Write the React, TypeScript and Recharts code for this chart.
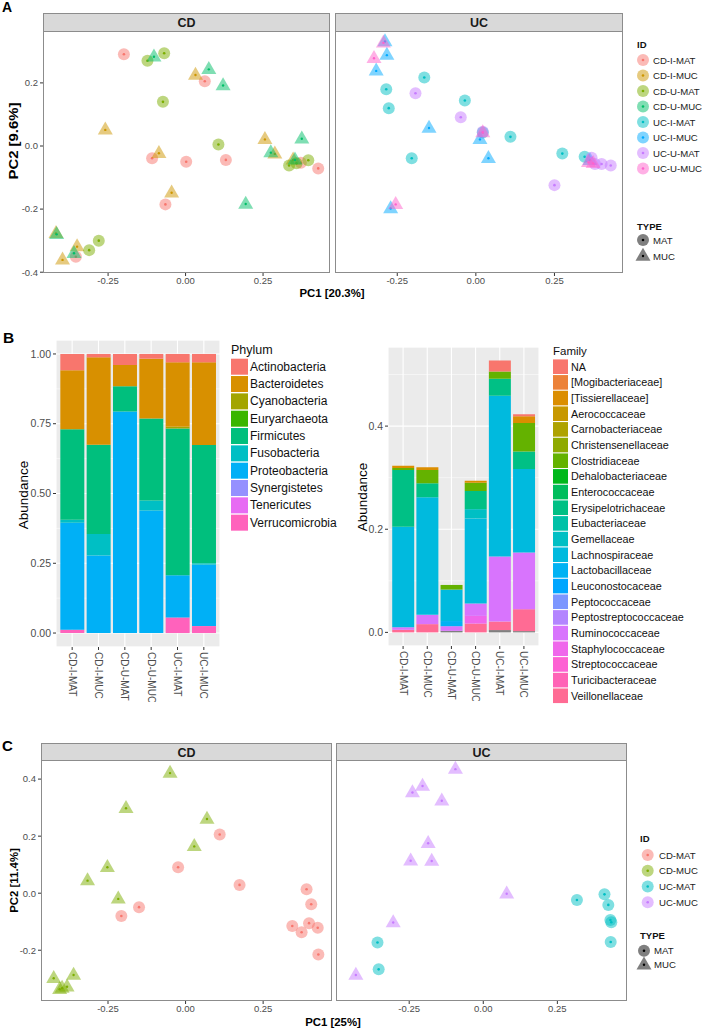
import React from "react";
import { ScatterChart, Scatter, XAxis, YAxis, BarChart, Bar, CartesianGrid } from "recharts";

const FONT = '"Liberation Sans", Arial, Helvetica, sans-serif';

// ---------------- Panel A (PCoA, 8 groups) ----------------
const A_IDS = ["CD-I-MAT", "CD-I-MUC", "CD-U-MAT", "CD-U-MUC", "UC-I-MAT", "UC-I-MUC", "UC-U-MAT", "UC-U-MUC"];
const A_CD_I_MAT = [[-0.199, 0.291], [0.062, 0.205], [-0.108, -0.039], [0.002, -0.05], [0.13, -0.044], [-0.065, -0.185], [0.372, -0.053], [0.428, -0.071], [-0.354, -0.351]];
const A_CD_I_MUC = [[-0.259, 0.051], [0.032, 0.225], [-0.086, -0.023], [-0.045, -0.148], [0.256, 0.021], [0.288, -0.025], [0.347, -0.044], [-0.418, -0.277], [-0.397, -0.361], [-0.35, -0.319]];
const A_CD_U_MAT = [[-0.123, 0.27], [-0.069, 0.294], [-0.073, 0.14], [0.106, 0.005], [0.334, -0.062], [0.396, -0.045], [-0.311, -0.33], [-0.28, -0.3], [0.358, -0.055]];
const A_CD_U_MUC = [[-0.102, 0.283], [0.075, 0.243], [0.121, 0.192], [0.375, 0.023], [0.275, -0.021], [0.194, -0.184], [-0.416, -0.28], [-0.36, -0.34], [0.353, -0.044]];
const A_UC_I_MAT = [[-0.164, 0.217], [-0.285, 0.18], [-0.277, 0.12], [-0.035, 0.144], [0.022, 0.043], [0.11, 0.029], [-0.204, -0.039], [0.275, -0.024], [0.346, -0.034]];
const A_UC_I_MUC = [[-0.289, 0.331], [-0.283, 0.288], [-0.317, 0.238], [-0.149, 0.057], [0.013, 0.021], [0.04, -0.039], [-0.271, -0.198], [0.363, -0.045]];
const A_UC_U_MAT = [[-0.192, 0.167], [-0.048, 0.091], [0.022, 0.045], [0.25, -0.124], [0.368, -0.037], [0.379, -0.057], [0.4, -0.057], [0.429, -0.062]];
const A_UC_U_MUC = [[-0.294, 0.327], [-0.324, 0.278], [0.022, 0.043], [-0.255, -0.185], [0.358, -0.052], [0.373, -0.055]];
const A_X_TICKS = [-0.25, 0, 0.25];
const A_Y_TICKS = [-0.4, -0.2, 0, 0.2];

// ---------------- Panel B (stacked abundance) ----------------
const barGroups = ["CD-I-MAT", "CD-I-MUC", "CD-U-MAT", "CD-U-MUC", "UC-I-MAT", "UC-I-MUC"];
const phylumNames = ["Actinobacteria", "Bacteroidetes", "Cyanobacteria", "Euryarchaeota", "Firmicutes", "Fusobacteria", "Proteobacteria", "Synergistetes", "Tenericutes", "Verrucomicrobia"];
const actinobacteria = [0.058, 0.012, 0.04, 0.017, 0.03, 0.03];
const bacteroidetes = [0.212, 0.313, 0.076, 0.214, 0.231, 0.296];
const cyanobacteria = [0, 0, 0, 0, 0.006, 0];
const euryarchaeota = [0, 0, 0, 0, 0, 0];
const firmicutes = [0.324, 0.32, 0.09, 0.294, 0.526, 0.424];
const fusobacteria = [0.011, 0.077, 0, 0.036, 0, 0.005];
const proteobacteria = [0.383, 0.278, 0.794, 0.439, 0.151, 0.22];
const synergistetes = [0, 0, 0, 0, 0, 0];
const tenericutes = [0, 0, 0, 0, 0, 0];
const verrucomicrobia = [0.012, 0, 0, 0, 0.056, 0.025];
const phylumSeries = [actinobacteria, bacteroidetes, cyanobacteria, euryarchaeota, firmicutes, fusobacteria, proteobacteria, synergistetes, tenericutes, verrucomicrobia];
const phylumTicks = [0, 0.25, 0.5, 0.75, 1];
const phylumMinorTicks = [0.125, 0.375, 0.625, 0.875];

const familyNames = ["NA", "[Mogibacteriaceae]", "[Tissierellaceae]", "Aerococcaceae", "Carnobacteriaceae", "Christensenellaceae", "Clostridiaceae", "Dehalobacteriaceae", "Enterococcaceae", "Erysipelotrichaceae", "Eubacteriaceae", "Gemellaceae", "Lachnospiraceae", "Lactobacillaceae", "Leuconostocaceae", "Peptococcaceae", "Peptostreptococcaceae", "Ruminococcaceae", "Staphylococcaceae", "Streptococcaceae", "Turicibacteraceae", "Veillonellaceae"];
const famNA = [0, 0, 0, 0, 0.021, 0.004];
const famMogibacteriaceae = [0, 0, 0, 0, 0, 0];
const famTissierellaceae = [0.004, 0.005, 0, 0.004, 0, 0.013];
const famAerococcaceae = [0, 0, 0, 0, 0, 0];
const famCarnobacteriaceae = [0, 0, 0, 0, 0, 0];
const famChristensenellaceae = [0, 0, 0, 0, 0, 0];
const famClostridiaceae = [0.004, 0.026, 0.009, 0.016, 0.014, 0.055];
const famDehalobacteriaceae = [0, 0, 0, 0, 0, 0];
const famEnterococcaceae = [0, 0, 0, 0, 0, 0];
const famErysipelotrichaceae = [0.11, 0.027, 0, 0.035, 0.033, 0.034];
const famEubacteriaceae = [0, 0, 0, 0, 0, 0];
const famGemellaceae = [0, 0, 0, 0.018, 0, 0];
const famLachnospiraceae = [0.195, 0.228, 0.061, 0.165, 0.312, 0.162];
const famLactobacillaceae = [0, 0, 0.01, 0, 0, 0];
const famLeuconostocaceae = [0, 0, 0, 0, 0, 0];
const famPeptococcaceae = [0, 0, 0, 0, 0, 0];
const famPeptostreptococcaceae = [0, 0, 0, 0, 0, 0];
const famRuminococcaceae = [0.005, 0.018, 0.009, 0.024, 0.126, 0.11];
const famStaphylococcaceae = [0, 0, 0, 0.015, 0, 0];
const famStreptococcaceae = [0, 0, 0, 0, 0, 0];
const famTuricibacteraceae = [0, 0, 0, 0, 0, 0];
const famVeillonellaceae = [0.005, 0.016, 0, 0.017, 0.0165, 0.0425];
const famUnassigned = [0, 0, 0.003, 0, 0.0045, 0.0025];
const familySeries = [famNA, famMogibacteriaceae, famTissierellaceae, famAerococcaceae, famCarnobacteriaceae, famChristensenellaceae, famClostridiaceae, famDehalobacteriaceae, famEnterococcaceae, famErysipelotrichaceae, famEubacteriaceae, famGemellaceae, famLachnospiraceae, famLactobacillaceae, famLeuconostocaceae, famPeptococcaceae, famPeptostreptococcaceae, famRuminococcaceae, famStaphylococcaceae, famStreptococcaceae, famTuricibacteraceae, famVeillonellaceae];
const familyTicks = [0, 0.2, 0.4];
const familyMinorTicks = [0.1, 0.3, 0.5];

// ---------------- Panel C (PCoA, 4 groups) ----------------
const C_IDS = ["CD-MAT", "CD-MUC", "UC-MAT", "UC-MUC"];
const C_CD_MAT = [[0.11, 0.206], [-0.024, 0.091], [0.174, 0.029], [0.39, 0.014], [0.405, -0.039], [-0.15, -0.049], [-0.207, -0.08], [0.344, -0.115], [0.374, -0.137], [0.398, -0.105], [0.426, -0.121], [0.428, -0.215]];
const C_CD_MUC = [[-0.05, 0.421], [-0.192, 0.298], [0.069, 0.26], [0.028, 0.164], [-0.252, 0.091], [-0.316, 0.044], [-0.217, -0.02], [-0.425, -0.298], [-0.361, -0.287], [-0.406, -0.337], [-0.382, -0.328], [-0.398, -0.333]];
const C_UC_MAT = [[0.316, -0.024], [0.409, -0.004], [0.422, -0.041], [0.429, -0.094], [0.432, -0.102], [0.43, -0.171], [-0.357, -0.173], [-0.353, -0.267]];
const C_UC_MUC = [[-0.094, 0.435], [-0.205, 0.376], [-0.239, 0.353], [-0.14, 0.324], [-0.186, 0.175], [-0.245, 0.114], [-0.174, 0.113], [0.079, -0.002], [-0.304, -0.103], [-0.43, -0.287]];
const C_X_TICKS = [-0.25, 0, 0.25];
const C_Y_TICKS = [-0.2, 0, 0.2, 0.4];

// ---------------- colours (ggplot2 hue palette) ----------------
function hcl(h: number, c = 100, l = 65): string {
  const rad = (h * Math.PI) / 180;
  const U = c * Math.cos(rad);
  const V = c * Math.sin(rad);
  const Xn = 95.047, Yn = 100.0, Zn = 108.883;
  const den = Xn + 15 * Yn + 3 * Zn;
  const un = (4 * Xn) / den, vn = (9 * Yn) / den;
  const Y = Yn * Math.pow((l + 16) / 116, 3);
  const u = U / (13 * l) + un;
  const v = V / (13 * l) + vn;
  const X = (9 * Y * u) / (4 * v);
  const Z = -X / 3 - 5 * Y + (3 * Y) / v;
  const x = X / 100, y = Y / 100, z = Z / 100;
  const lin = [
    3.240479 * x - 1.53715 * y - 0.498535 * z,
    -0.969256 * x + 1.875992 * y + 0.041556 * z,
    0.055648 * x - 0.204043 * y + 1.057311 * z,
  ];
  return "#" + lin.map((t) => {
    let s = t <= 0.0031308 ? 12.92 * t : 1.055 * Math.pow(t, 1 / 2.4) - 0.055;
    s = Math.max(0, Math.min(1, s));
    return Math.round(s * 255).toString(16).padStart(2, "0");
  }).join("");
}
function huePal(n: number): string[] {
  const out: string[] = [];
  for (let i = 0; i < n; i++) out.push(hcl(15 + (360 * i) / n));
  return out;
}
const A_COLORS = huePal(8);
const C_COLORS = huePal(4);
const PHY_COLORS = huePal(10);
const FAM_COLORS = huePal(22);
const NA_GREY = "#7F7F7F";

const toPts = (arr: number[][]) => arr.map(([x, y]) => ({ x, y }));

const pointShape = (color: string, tri: boolean) => (p: any) => {
  const { cx, cy } = p;
  if (cx == null || cy == null) return <g />;
  if (tri) {
    return (
      <g>
        <polygon points={`${cx},${cy - 8.3} ${cx - 7.5},${cy + 4.7} ${cx + 7.5},${cy + 4.7}`} fill={color} fillOpacity={0.5} />
        <circle cx={cx} cy={cy} r={1.2} fill={color} />
      </g>
    );
  }
  return (
    <g>
      <circle cx={cx} cy={cy} r={6} fill={color} fillOpacity={0.5} />
      <circle cx={cx} cy={cy} r={1.3} fill={color} />
    </g>
  );
};

type Group = { name: string; pts: number[][]; color: string; tri: boolean };

function Facet(props: {
  left: number; top: number; width: number; height: number; yWidth: number; showY: boolean;
  xDomain: number[]; yDomain: number[]; xTicks: number[]; yTicks: number[]; groups: Group[];
}) {
  const { left, top, width, height, yWidth, showY, xDomain, yDomain, xTicks, yTicks, groups } = props;
  const tickStyle = { fontSize: 9.5, fill: "#4D4D4D", fontFamily: FONT };
  return (
    <div style={{ position: "absolute", left, top }}>
      <ScatterChart width={width} height={height} margin={{ top: 0, right: showY ? 1 : 0, bottom: 0, left: 0 }}>
        <XAxis type="number" dataKey="x" domain={xDomain} allowDataOverflow ticks={xTicks} interval={0}
          tickFormatter={(v: number) => v.toFixed(2)} height={20} tickSize={3} tickMargin={1}
          axisLine={false} tickLine={{ stroke: "#333" }} tick={tickStyle} />
        <YAxis type="number" dataKey="y" domain={yDomain} allowDataOverflow ticks={yTicks} interval={0}
          hide={!showY} width={showY ? yWidth : 0}
          tickFormatter={(v: number) => v.toFixed(1)} tickSize={3} tickMargin={2}
          axisLine={false} tickLine={{ stroke: "#333" }} tick={tickStyle} />
        {groups.map((g) => (
          <Scatter key={g.name} name={g.name} data={toPts(g.pts)} shape={pointShape(g.color, g.tri)} isAnimationActive={false} />
        ))}
      </ScatterChart>
    </div>
  );
}

const RotTick = (p: any) => {
  const { x, y, payload } = p;
  return (
    <text x={0} y={0} transform={`translate(${x},${y}) rotate(90)`} textAnchor="start" dominantBaseline="central"
      fontSize={10} fill="#4D4D4D" fontFamily={FONT}>{payload.value}</text>
  );
};

function StackedBars(props: {
  left: number; top: number; width: number; height: number; yWidth: number;
  rows: any[]; names: string[]; colors: string[]; domain: number[]; ticks: number[]; minor: number[];
  digits: number; extra?: { key: string; color: string };
}) {
  const { left, top, width, height, yWidth, rows, names, colors, domain, ticks, minor, digits, extra } = props;
  const order = names.map((n, i) => ({ n, c: colors[i] })).reverse();
  return (
    <div style={{ position: "absolute", left, top }}>
      <BarChart width={width} height={height} data={rows} margin={{ top: 0, right: 1, bottom: 0, left: 0 }} barCategoryGap="5%">
        <YAxis yAxisId="minor" hide type="number" domain={domain} allowDataOverflow ticks={minor} interval={0} />
        <CartesianGrid yAxisId="minor" vertical={false} fill="#EBEBEB" fillOpacity={1} stroke="#FFFFFF" strokeWidth={0.5} />
        <CartesianGrid stroke="#FFFFFF" strokeWidth={1.1} />
        <XAxis dataKey="name" type="category" padding={{ left: 3, right: 3 }} interval={0} height={55}
          tickSize={3} tickMargin={2} axisLine={false} tickLine={{ stroke: "#333" }} tick={(p: any) => <RotTick {...p} />} />
        <YAxis type="number" domain={domain} allowDataOverflow ticks={ticks} interval={0} width={yWidth}
          tickFormatter={(v: number) => v.toFixed(digits)} tickSize={3} tickMargin={2}
          axisLine={false} tickLine={{ stroke: "#333" }} tick={{ fontSize: 10.5, fill: "#4D4D4D", fontFamily: FONT }} />
        {extra ? <Bar dataKey={extra.key} stackId="s" fill={extra.color} isAnimationActive={false} /> : null}
        {order.map((o) => (
          <Bar key={o.n} dataKey={o.n} stackId="s" fill={o.c} isAnimationActive={false} />
        ))}
      </BarChart>
    </div>
  );
}

const phylumRows = barGroups.map((g, i) => {
  const row: any = { name: g };
  phylumNames.forEach((n, k) => { row[n] = phylumSeries[k][i]; });
  return row;
});
const familyRows = barGroups.map((g, i) => {
  const row: any = { name: g, unassigned: famUnassigned[i] };
  familyNames.forEach((n, k) => { row[n] = familySeries[k][i]; });
  return row;
});

// ---------------- overlay helpers ----------------
const Strip = ({ x, y, w, h, label }: any) => (
  <g>
    <rect x={x + 0.5} y={y + 0.5} width={w - 1} height={h} fill="#D9D9D9" stroke="#8C8C8C" strokeWidth={1} />
    <text x={x + w / 2} y={y + h / 2 + 1} textAnchor="middle" dominantBaseline="central" fontWeight="bold" fontSize={12.5} fill="#1A1A1A">{label}</text>
  </g>
);
const Border = ({ x, y, w, h }: any) => (
  <rect x={x + 0.5} y={y + 0.5} width={w - 1} height={h - 1} fill="none" stroke="#8C8C8C" strokeWidth={1} />
);

function ScatterLegend({ x, keyX, textX, titleY, ids, colors, y0, step, typeY, matY, mucY, typeKeyX }: any) {
  return (
    <g>
      <text x={x} y={titleY} dominantBaseline="central" fontWeight="bold" fontSize={9.5} fill="#111">ID</text>
      {ids.map((id: string, i: number) => {
        const cy = y0 + i * step;
        return (
          <g key={id}>
            <circle cx={keyX} cy={cy} r={6} fill={colors[i]} fillOpacity={0.5} />
            <circle cx={keyX} cy={cy} r={1.3} fill={colors[i]} />
            <text x={textX} y={cy} dominantBaseline="central" fontSize={9.6} fill="#222">{id}</text>
          </g>
        );
      })}
      <text x={x} y={typeY} dominantBaseline="central" fontWeight="bold" fontSize={9.5} fill="#111">TYPE</text>
      <circle cx={typeKeyX} cy={matY} r={6} fill="#000" fillOpacity={0.5} />
      <circle cx={typeKeyX} cy={matY} r={1.3} fill="#000" />
      <text x={typeKeyX + 10} y={matY} dominantBaseline="central" fontSize={9.6} fill="#222">MAT</text>
      <polygon points={`${typeKeyX},${mucY - 8.3} ${typeKeyX - 7.5},${mucY + 4.7} ${typeKeyX + 7.5},${mucY + 4.7}`} fill="#000" fillOpacity={0.5} />
      <circle cx={typeKeyX} cy={mucY} r={1.2} fill="#000" />
      <text x={typeKeyX + 10} y={mucY} dominantBaseline="central" fontSize={9.6} fill="#222">MUC</text>
    </g>
  );
}

function FillLegend({ title, titleX, titleY, names, colors, keyX, keyW, keyH, y0, step, textX, fontSize, titleSize }: any) {
  return (
    <g>
      <text x={titleX} y={titleY} dominantBaseline="central" fontSize={titleSize} fill="#111">{title}</text>
      {names.map((n: string, i: number) => {
        const cy = y0 + i * step;
        return (
          <g key={n}>
            <rect x={keyX} y={cy - keyH / 2} width={keyW} height={keyH} fill={colors[i]} />
            <text x={textX} y={cy} dominantBaseline="central" fontSize={fontSize} fill="#111">{n}</text>
          </g>
        );
      })}
    </g>
  );
}

export default function App() {
  const aCD: Group[] = [
    { name: A_IDS[0], pts: A_CD_I_MAT, color: A_COLORS[0], tri: false },
    { name: A_IDS[1], pts: A_CD_I_MUC, color: A_COLORS[1], tri: true },
    { name: A_IDS[2], pts: A_CD_U_MAT, color: A_COLORS[2], tri: false },
    { name: A_IDS[3], pts: A_CD_U_MUC, color: A_COLORS[3], tri: true },
  ];
  const aUC: Group[] = [
    { name: A_IDS[4], pts: A_UC_I_MAT, color: A_COLORS[4], tri: false },
    { name: A_IDS[5], pts: A_UC_I_MUC, color: A_COLORS[5], tri: true },
    { name: A_IDS[6], pts: A_UC_U_MAT, color: A_COLORS[6], tri: false },
    { name: A_IDS[7], pts: A_UC_U_MUC, color: A_COLORS[7], tri: true },
  ];
  const cCD: Group[] = [
    { name: C_IDS[0], pts: C_CD_MAT, color: C_COLORS[0], tri: false },
    { name: C_IDS[1], pts: C_CD_MUC, color: C_COLORS[1], tri: true },
  ];
  const cUC: Group[] = [
    { name: C_IDS[2], pts: C_UC_MAT, color: C_COLORS[2], tri: false },
    { name: C_IDS[3], pts: C_UC_MUC, color: C_COLORS[3], tri: true },
  ];
  const aY = [-0.4025, 0.3645];
  const cY = [-0.378, 0.467];
  return (
    <div style={{ position: "absolute", left: 0, top: 0, width: 703, height: 1029, background: "#fff", fontFamily: FONT }}>
      {/* Panel A */}
      <Facet left={0} top={31} width={331} height={262} yWidth={43} showY xDomain={[-0.46, 0.466]} yDomain={aY} xTicks={A_X_TICKS} yTicks={A_Y_TICKS} groups={aCD} />
      <Facet left={335} top={31} width={288} height={262} yWidth={0} showY={false} xDomain={[-0.448, 0.468]} yDomain={aY} xTicks={A_X_TICKS} yTicks={A_Y_TICKS} groups={aUC} />
      {/* Panel B */}
      <StackedBars left={0} top={340} width={221} height={362} yWidth={56} rows={phylumRows} names={phylumNames} colors={PHY_COLORS}
        domain={[-0.05, 1.05]} ticks={phylumTicks} minor={phylumMinorTicks} digits={2} />
      <StackedBars left={330} top={347} width={210} height={354} yWidth={58} rows={familyRows} names={familyNames} colors={FAM_COLORS}
        domain={[-0.0264, 0.5534]} ticks={familyTicks} minor={familyMinorTicks} digits={1} extra={{ key: "unassigned", color: NA_GREY }} />
      {/* Panel C */}
      <Facet left={0} top={760} width={333} height={261} yWidth={41} showY xDomain={[-0.466, 0.472]} yDomain={cY} xTicks={C_X_TICKS} yTicks={C_Y_TICKS} groups={cCD} />
      <Facet left={336} top={760} width={291} height={261} yWidth={0} showY={false} xDomain={[-0.497, 0.485]} yDomain={cY} xTicks={C_X_TICKS} yTicks={C_Y_TICKS} groups={cUC} />

      <svg width={703} height={1029} style={{ position: "absolute", left: 0, top: 0, pointerEvents: "none" }} fontFamily={FONT}>
        {/* panel letters */}
        <text x={2} y={12} fontWeight="bold" fontSize={14} fill="#000">A</text>
        <text x={3} y={343} fontWeight="bold" fontSize={15.5} fill="#000">B</text>
        <text x={2} y={751} fontWeight="bold" fontSize={15} fill="#000">C</text>

        {/* Panel A decorations */}
        <Strip x={43} y={13} w={287} h={18} label="CD" />
        <Strip x={335} y={13} w={288} h={18} label="UC" />
        <Border x={43} y={31} w={287} h={242} />
        <Border x={335} y={31} w={288} h={242} />
        <text x={332} y={293} textAnchor="middle" dominantBaseline="central" fontWeight="bold" fontSize={11.4} fill="#000">PC1 [20.3%]</text>
        <text x={0} y={0} transform="translate(14,141) rotate(-90)" textAnchor="middle" dominantBaseline="central" fontWeight="bold" fontSize={12} fill="#000" textLength={77} lengthAdjust="spacingAndGlyphs">PC2 [9.6%]</text>
        <ScatterLegend x={637} keyX={643} textX={653} titleY={44} ids={A_IDS} colors={A_COLORS} y0={60} step={15.5} typeY={226} matY={240} mucY={256} typeKeyX={643} />

        {/* Panel B decorations */}
        <text x={0} y={0} transform="translate(23,495) rotate(-90)" textAnchor="middle" dominantBaseline="central" fontSize={13.5} fill="#000">Abundance</text>
        <text x={0} y={0} transform="translate(362,497) rotate(-90)" textAnchor="middle" dominantBaseline="central" fontSize={13.5} fill="#000">Abundance</text>
        <FillLegend title="Phylum" titleX={231} titleY={350} names={phylumNames} colors={PHY_COLORS} keyX={231} keyW={17} keyH={16} y0={366.7} step={17.33} textX={250} fontSize={12} titleSize={12.5} />
        <FillLegend title="Family" titleX={553} titleY={351} names={familyNames} colors={FAM_COLORS} keyX={553} keyW={15} keyH={14.6} y0={366.7} step={15.67} textX={571} fontSize={10.8} titleSize={11.5} />

        {/* Panel C decorations */}
        <Strip x={41} y={743} w={291} h={17} label="CD" />
        <Strip x={336} y={743} w={291} h={17} label="UC" />
        <Border x={41} y={760} w={291} h={241} />
        <Border x={336} y={760} w={291} h={241} />
        <text x={333} y={1021.5} textAnchor="middle" dominantBaseline="central" fontWeight="bold" fontSize={11.4} fill="#000">PC1 [25%]</text>
        <text x={0} y={0} transform="translate(14,880.5) rotate(-90)" textAnchor="middle" dominantBaseline="central" fontWeight="bold" fontSize={11.4} fill="#000">PC2 [11.4%]</text>
        <ScatterLegend x={640} keyX={647.7} textX={659} titleY={838} ids={C_IDS} colors={C_COLORS} y0={855} step={15.75} typeY={935.3} matY={950.7} mucY={964.7} typeKeyX={644} />
      </svg>
    </div>
  );
}
